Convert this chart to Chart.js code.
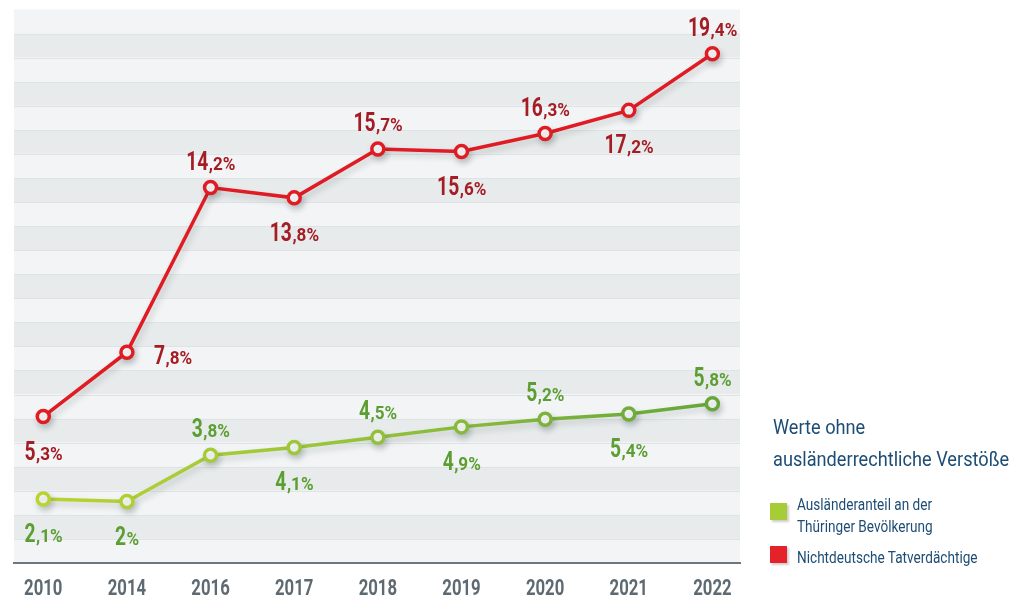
<!DOCTYPE html>
<html lang="de">
<head>
<meta charset="utf-8">
<script src="https://cdn.jsdelivr.net/npm/chart.js@4.4.1/dist/chart.umd.min.js"></script>
<style>
  html, body { margin: 0; padding: 0; background: #fff; }
  #wrap { position: relative; width: 1014px; height: 598px; }
  .legend { position: absolute; color: #1d4c74; font-family: Roboto, sans-serif; white-space: nowrap; transform-origin: 0 0; }
  .legend-title { left: 773px; top: 411px; font-size: 21px; line-height: 32px; transform: scaleX(0.865); }
  .legend-text { left: 797px; font-size: 17px; line-height: 22px; transform: scaleX(0.8); }
  .box { position: absolute; left: 770px; width: 17px; height: 17px; box-shadow: 2px 2px 2px rgba(0,0,0,0.2); }
</style>
</head>
<body>
<div id="wrap">
  <canvas id="chart"></canvas>
  <div class="legend legend-title">Werte ohne<br>ausländerrechtliche Verstöße</div>
  <div class="box" style="top:503px; background:#a6cc38"></div>
  <div class="legend legend-text" style="top:493px">Ausländeranteil an der<br>Thüringer Bevölkerung</div>
  <div class="box" style="top:546px; background:#e52229"></div>
  <div class="legend legend-text" style="top:546px">Nichtdeutsche Tatverdächtige</div>
</div>
<script>
// Anteil Nichtdeutscher an den Tatverdächtigen vs. Ausländeranteil (Thüringen)
const years        = ["2010", "2014", "2016", "2017", "2018", "2019", "2020", "2021", "2022"]
const auslaender   = [2.1, 2.0, 3.8, 4.1, 4.5, 4.9, 5.2, 5.4, 5.8]
const tatverdacht  = [5.3, 7.8, 14.2, 13.8, 15.7, 15.6, 16.3, 17.2, 19.4]

// where each value label sits relative to its point
const greenPlace = ["below", "below", "above", "below", "above", "below", "above", "below", "above"]
const redPlace   = ["below", "right", "above", "below", "above", "below", "above", "below", "above"]

const FONT = 'Roboto, "Noto Sans", sans-serif'

const toPoints = (arr) => arr.map((v, i) => ({ x: i, y: v }))

// horizontal lime -> green gradient for the lower series
function greenGradient(context) {
  const { chart } = context
  const area = chart.chartArea
  if (!area) return "#9cc63a"
  const g = chart.ctx.createLinearGradient(area.left, 0, area.right, 0)
  g.addColorStop(0, "#bcd52f")
  g.addColorStop(0.4, "#9cc63a")
  g.addColorStop(1, "#62a43a")
  return g
}

// text squeezed horizontally, to get the condensed look without a condensed font
function squeezed(ctx, text, x, y, font, sx) {
  ctx.save()
  ctx.font = font
  ctx.translate(x, y)
  ctx.scale(sx, 1)
  ctx.fillText(text, 0, 0)
  ctx.restore()
}
function squeezedWidth(ctx, text, font, sx) {
  ctx.save()
  ctx.font = font
  const w = ctx.measureText(text).width * sx
  ctx.restore()
  return w
}

// striped background behind the plot
const bands = {
  id: "bands",
  beforeDraw(chart) {
    const { ctx, chartArea: a } = chart
    const n = 23
    const h = (a.bottom - a.top) / n
    ctx.save()
    for (let i = 0; i < n; i++) {
      ctx.fillStyle = i % 2 ? "#e8ebec" : "#f2f4f5"
      ctx.fillRect(a.left, a.top + i * h, a.right - a.left, h)
    }
    ctx.strokeStyle = "#dfe3e5"
    ctx.lineWidth = 1
    for (let i = 1; i < n; i++) {
      const y = Math.round(a.top + i * h) + 0.5
      ctx.beginPath(); ctx.moveTo(a.left, y); ctx.lineTo(a.right, y); ctx.stroke()
    }
    ctx.restore()
  }
}

// soft drop shadow under the lines
const lineShadow = {
  id: "lineShadow",
  beforeDatasetDraw(chart) {
    const ctx = chart.ctx
    ctx.save()
    ctx.shadowColor = "rgba(40, 60, 60, 0.22)"
    ctx.shadowBlur = 6
    ctx.shadowOffsetX = 2
    ctx.shadowOffsetY = 4
  },
  afterDatasetDraw(chart) {
    chart.ctx.restore()
  }
}

// "14,2%" with big integer part and smaller remainder
const valueLabels = {
  id: "valueLabels",
  afterDatasetsDraw(chart) {
    const ctx = chart.ctx
    const bigFont = "bold 26px " + FONT
    const smallFont = "bold 18px " + FONT
    chart.data.datasets.forEach((ds, di) => {
      const meta = chart.getDatasetMeta(di)
      meta.data.forEach((pt, i) => {
        const txt = String(ds.data[i].y).replace(".", ",")
        const ci = txt.indexOf(",")
        const big = ci < 0 ? txt : txt.slice(0, ci)
        const small = (ci < 0 ? "" : txt.slice(ci)) + "%"
        const wb = squeezedWidth(ctx, big, bigFont, 0.74)
        const ws = squeezedWidth(ctx, small, smallFont, 0.95)
        const place = ds.labelPlace[i]
        let x = pt.x - (wb + ws) / 2
        let y = pt.y + 43
        if (place === "above") y = pt.y - 18
        if (place === "right") { x = pt.x + 27; y = pt.y + 12 }
        ctx.fillStyle = ds.labelColor
        ctx.textAlign = "left"
        ctx.textBaseline = "alphabetic"
        squeezed(ctx, big, x, y, bigFont, 0.74)
        squeezed(ctx, small, x + wb + 0.5, y, smallFont, 0.95)
      })
    })
  }
}

// year labels under the axis, placed through the x scale
const yearLabels = {
  id: "yearLabels",
  afterDraw(chart) {
    const ctx = chart.ctx
    const xs = chart.scales.x
    const font = "bold 22px " + FONT
    ctx.fillStyle = "#5e6a72"
    ctx.textAlign = "left"
    ctx.textBaseline = "alphabetic"
    years.forEach((yr, i) => {
      const w = squeezedWidth(ctx, yr, font, 0.76)
      squeezed(ctx, yr, xs.getPixelForValue(i) - w / 2, xs.bottom + 32, font, 0.76)
    })
  }
}

new Chart(document.getElementById("chart"), {
  type: "line",
  data: {
    datasets: [
      {
        label: "Ausländeranteil an der Thüringer Bevölkerung",
        data: toPoints(auslaender),
        borderColor: greenGradient,
        pointBorderColor: greenGradient,
        pointBackgroundColor: "#ffffff",
        labelColor: "#5b9e31",
        labelPlace: greenPlace,
        borderWidth: 3.5,
        pointRadius: 6,
        pointBorderWidth: 3.5,
        tension: 0,
      },
      {
        label: "Nichtdeutsche Tatverdächtige",
        data: toPoints(tatverdacht),
        borderColor: "#e01b23",
        pointBorderColor: "#e01b23",
        pointBackgroundColor: "#ffffff",
        labelColor: "#a41c24",
        labelPlace: redPlace,
        borderWidth: 3.5,
        pointRadius: 6,
        pointBorderWidth: 3.5,
        tension: 0,
      }
    ]
  },
  options: {
    responsive: true,
    maintainAspectRatio: false,
    animation: false,
    layout: { padding: { left: 14, top: 8, right: 274, bottom: 35 } },
    plugins: {
      legend: { display: false },
      tooltip: { enabled: false }
    },
    scales: {
      x: {
        type: "linear",
        min: -0.35,
        max: 8.33,
        grid: { display: false, drawTicks: false },
        border: { display: true, color: "#6b7780", width: 2 },
        ticks: { display: false }
      },
      y: {
        display: false,
        min: -0.39,
        max: 21.12
      }
    }
  },
  plugins: [bands, lineShadow, valueLabels, yearLabels]
})
</script>
</body>
</html>
